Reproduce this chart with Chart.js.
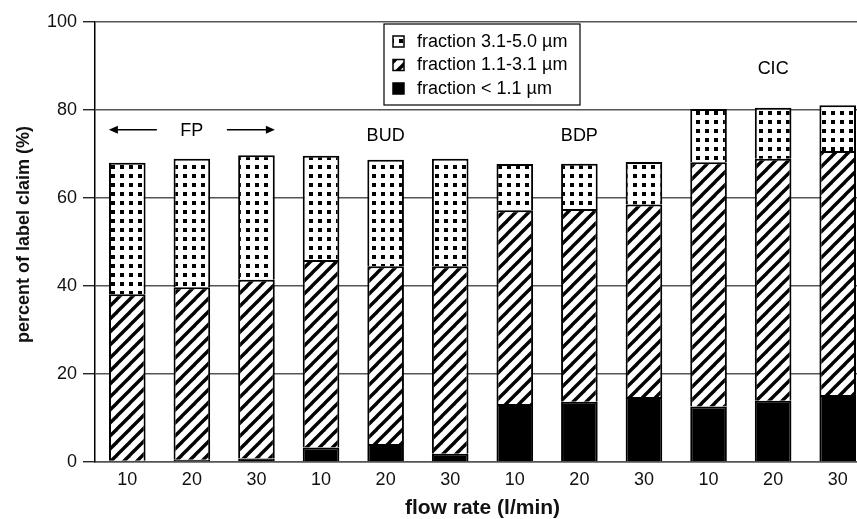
<!DOCTYPE html>
<html>
<head>
<meta charset="utf-8">
<script src="https://cdn.jsdelivr.net/npm/chart.js@4/dist/chart.umd.min.js"></script>
<style>
  html, body { margin: 0; padding: 0; overflow: hidden; background: #fff; }
  canvas { display: block; }
</style>
</head>
<body>
<canvas id="chart" width="872" height="519"></canvas>
<script>
// flow rate per bar, four drugs with three flow rates each
var flowRates = ['10', '20', '30', '10', '20', '30', '10', '20', '30', '10', '20', '30'];
var drugs = ['FP', 'BUD', 'BDP', 'CIC'];

// percent of label claim for each size fraction
var fracFine = [0.3, 0.5, 0.8, 3.3, 4.1, 1.9, 13.2, 13.7, 14.8, 12.6, 13.9, 15.2];
var fracMid = [37.8, 39.2, 40.6, 42.6, 40.4, 42.6, 44.0, 43.8, 43.7, 55.5, 55.0, 55.5];
var fracCoarse = [29.9, 29.2, 28.3, 23.7, 24.2, 24.4, 10.5, 10.3, 9.7, 12.1, 11.6, 10.4];

var fractionLabels = ['fraction < 1.1 \u00b5m', 'fraction 1.1-3.1 \u00b5m', 'fraction 3.1-5.0 \u00b5m'];

var FONT = '"Liberation Sans", Arial, sans-serif';

function hatchPattern() {
    var n = 13;
    var c = document.createElement('canvas');
    c.width = n; c.height = n;
    var g = c.getContext('2d');
    g.fillStyle = '#fff';
    g.fillRect(0, 0, n, n);
    g.strokeStyle = '#000';
    g.lineWidth = 3.4;
    for (var k = -n; k <= n; k += n) {
        g.beginPath();
        g.moveTo(-2 + k, n + 2);
        g.lineTo(n + 2 + k, -2);
        g.stroke();
    }
    return g.createPattern(c, 'repeat');
}

function dotPattern() {
    var c = document.createElement('canvas');
    c.width = 9; c.height = 9;
    var g = c.getContext('2d');
    g.fillStyle = '#fff';
    g.fillRect(0, 0, 9, 9);
    g.fillStyle = '#000';
    g.fillRect(3, 3, 4, 4);
    return g.createPattern(c, 'repeat');
}

var fills = ['#000', hatchPattern(), dotPattern()];

// where each drug name sits (middle bar of group, y in axis units)
var drugLabelY = [75.3, 74.0, 74.0, 89.2];

var overlay = {
    id: 'overlay',
    afterDraw: function (chart) {
        var ctx = chart.ctx;
        var xs = chart.scales.x, ys = chart.scales.y;
        var area = chart.chartArea;
        ctx.save();
        ctx.font = '18px ' + FONT;
        ctx.fillStyle = '#000';
        ctx.textAlign = 'center';
        ctx.textBaseline = 'middle';
        for (var i = 0; i < drugs.length; i++) {
            var cx = xs.getPixelForValue(i * 3 + 1);
            var cy = ys.getPixelForValue(drugLabelY[i]);
            ctx.fillText(drugs[i], cx, cy);
            if (i === 0) {
                // arrows either side of FP
                ctx.strokeStyle = '#000';
                ctx.lineWidth = 1.5;
                [[-35, -83], [35, 83]].forEach(function (a) {
                    var x0 = cx + a[0], x1 = cx + a[1];
                    var dir = a[1] > 0 ? 1 : -1;
                    ctx.beginPath();
                    ctx.moveTo(x0, cy - 1);
                    ctx.lineTo(x1 - dir * 6, cy - 1);
                    ctx.stroke();
                    ctx.beginPath();
                    ctx.moveTo(x1, cy - 1);
                    ctx.lineTo(x1 - dir * 9, cy - 5);
                    ctx.lineTo(x1 - dir * 9, cy + 3);
                    ctx.closePath();
                    ctx.fill();
                });
            }
        }

        // legend box
        var bx = area.left + 289, by = area.top + 2, bw = 196, bh = 81;
        ctx.fillStyle = '#fff';
        ctx.fillRect(bx, by, bw, bh);
        ctx.strokeStyle = '#000';
        ctx.lineWidth = 1.2;
        ctx.strokeRect(bx, by, bw, bh);
        ctx.textAlign = 'left';
        var order = [2, 1, 0];
        for (var r = 0; r < order.length; r++) {
            var ds = chart.data.datasets[order[r]];
            var ry = by + 17 + r * 23.5;
            ctx.fillStyle = ds.backgroundColor;
            ctx.fillRect(bx + 9, ry - 5, 11, 11);
            ctx.strokeStyle = '#000';
            ctx.lineWidth = 1.5;
            ctx.strokeRect(bx + 9, ry - 5, 11, 11);
            ctx.fillStyle = '#000';
            ctx.fillText(ds.label, bx + 33, ry + 1);
        }
        ctx.restore();
    }
};

var datasets = [fracFine, fracMid, fracCoarse].map(function (vals, i) {
    return {
        label: fractionLabels[i],
        data: vals,
        backgroundColor: fills[i],
        borderColor: '#000',
        borderWidth: 2,
        barPercentage: 0.567,
        categoryPercentage: 1.0
    };
});

var ctx = document.getElementById('chart').getContext('2d');
var myChart = new Chart(ctx, {
    type: 'bar',
    data: { labels: flowRates, datasets: datasets },
    options: {
        responsive: false,
        animation: false,
        layout: { padding: { top: 22, right: 2, left: 0, bottom: 0 } },
        plugins: {
            legend: { display: false },
            tooltip: { enabled: false }
        },
        scales: {
            x: {
                stacked: true,
                grid: { display: true, drawOnChartArea: false, drawTicks: false },
                border: { color: '#555', width: 1.5 },
                ticks: { color: '#111', padding: 7, maxRotation: 0, font: { family: FONT, size: 18 } },
                title: {
                    display: true,
                    text: 'flow rate (l/min)',
                    color: '#111',
                    padding: { top: 0, bottom: 0 },
                    font: { family: FONT, size: 21, weight: 'bold', lineHeight: 1 }
                },
                afterFit: function (s) { s.height = 57; }
            },
            y: {
                stacked: true,
                min: 0,
                max: 100,
                ticks: { stepSize: 20, color: '#111', padding: 6, font: { family: FONT, size: 18 } },
                grid: { color: '#555', lineWidth: 1.5, tickLength: 12, tickColor: '#000', tickWidth: 1.2 },
                border: { color: '#000', width: 1.5 },
                title: {
                    display: true,
                    text: '\u00a0\u00a0\u00a0percent of label claim (%)',
                    color: '#111',
                    padding: { top: 13, bottom: 0 },
                    font: { family: FONT, size: 18, weight: 'bold' }
                },
                afterFit: function (s) { s.width = 95; }
            }
        }
    },
    plugins: [overlay]
});
</script>
</body>
</html>
